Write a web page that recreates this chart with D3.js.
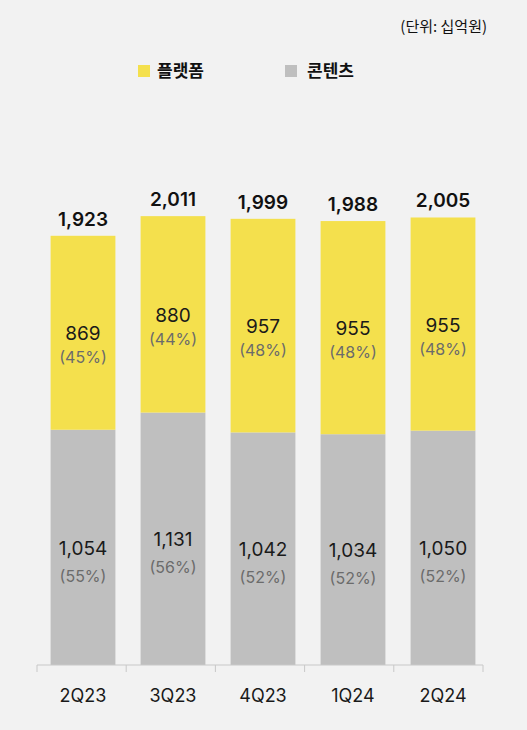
<!DOCTYPE html>
<html>
<head>
<meta charset="utf-8">
<script src="https://cdn.jsdelivr.net/npm/d3@7"></script>
<style>
  html, body { margin: 0; padding: 0; background: #f2f2f2; }
  svg { display: block; }
</style>
</head>
<body>
<div id="chart"></div>
<script>
// data (십억원)
const quarters = ["2Q23", "3Q23", "4Q23", "1Q24", "2Q24"];
const contents = [1054, 1131, 1042, 1034, 1050];
const platform = [869, 880, 957, 955, 955];
const totals = [1923, 2011, 1999, 1988, 2005];
const contentsPct = ["(55%)", "(56%)", "(52%)", "(52%)", "(52%)"];
const platformPct = ["(45%)", "(44%)", "(48%)", "(48%)", "(48%)"];
const seriesNames = ["플랫폼", "콘텐츠"];

const W = 527, H = 730;
const colors = { platform: "#f4e04d", contents: "#bfbfbf" };
const font = "Inter, 'Noto Sans', sans-serif";
const krFont = "'Noto Sans CJK KR', sans-serif";

const svg = d3.select("#chart").append("svg")
  .attr("width", W).attr("height", H);

svg.append("rect").attr("width", W).attr("height", H).attr("fill", "#f2f2f2");

const rows = quarters.map((q, i) => ({
  q, contents: contents[i], platform: platform[i], total: totals[i],
  cPct: contentsPct[i], pPct: platformPct[i]
}));

// bars
const x = d3.scaleBand()
  .domain(quarters)
  .range([38, 488])
  .paddingInner(0.28)
  .paddingOuter(0.14);

// axis categories (tick marks at the edges)
const xAxis = d3.scaleBand()
  .domain(quarters)
  .range([37, 483]);

const y = d3.scaleLinear()
  .domain([0, 2500])
  .range([665, 107]);

const stack = d3.stack().keys(["contents", "platform"]);
const layers = stack(rows);

svg.append("g").selectAll("g")
  .data(layers)
  .join("g")
  .attr("fill", d => colors[d.key])
  .selectAll("rect")
  .data(d => d)
  .join("rect")
  .attr("x", d => x(d.data.q))
  .attr("y", d => y(d[1]))
  .attr("width", x.bandwidth())
  .attr("height", d => y(d[0]) - y(d[1]));

// segment labels
layers.forEach(layer => {
  const g = svg.append("g").attr("text-anchor", "middle");
  layer.forEach(d => {
    const cx = x(d.data.q) + x.bandwidth() / 2;
    const mid = (y(d[0]) + y(d[1])) / 2;
    const isC = layer.key === "contents";
    g.append("text")
      .attr("x", cx).attr("y", mid + 1)
      .attr("dy", "0.35em")
      .style("font-family", font).style("font-size", "19px")
      .attr("fill", "#1a1a1a")
      .text(d3.format(",")(d.data[layer.key]));
    g.append("text")
      .attr("x", cx).attr("y", mid + (isC ? 29 : 25))
      .attr("dy", "0.35em")
      .style("font-family", font).style("font-size", "16px")
      .attr("fill", "#6b6b6b")
      .text(isC ? d.data.cPct : d.data.pPct);
  });
});

// totals
svg.append("g").selectAll("text")
  .data(rows)
  .join("text")
  .attr("text-anchor", "middle")
  .attr("x", d => x(d.q) + x.bandwidth() / 2)
  .attr("y", d => y(d.total) - 10)
  .style("font-family", font).style("font-size", "19px").style("font-weight", "600")
  .attr("fill", "#111")
  .text(d => d3.format(",")(d.total));

// x axis
const axisG = svg.append("g");
axisG.append("line")
  .attr("x1", 37).attr("x2", 483)
  .attr("y1", y(0)).attr("y2", y(0))
  .attr("stroke", "#c8c8c8").attr("stroke-width", 1);
const edges = quarters.map(q => xAxis(q)).concat([xAxis.range()[1]]);
axisG.selectAll("line.tick")
  .data(edges)
  .join("line")
  .attr("class", "tick")
  .attr("x1", d => d).attr("x2", d => d)
  .attr("y1", y(0)).attr("y2", y(0) + 7)
  .attr("stroke", "#c8c8c8");
axisG.selectAll("text")
  .data(quarters)
  .join("text")
  .attr("text-anchor", "middle")
  .attr("x", d => x(d) + x.bandwidth() / 2)
  .attr("y", 702)
  .style("font-family", font).style("font-size", "18px")
  .attr("fill", "#1a1a1a")
  .text(d => d);

// legend
const legend = svg.append("g");
const legendX = [138, 285];
const legendColors = [colors.platform, colors.contents];
seriesNames.forEach((name, i) => {
  legend.append("rect")
    .attr("x", legendX[i]).attr("y", 65)
    .attr("width", 12).attr("height", 12)
    .attr("fill", legendColors[i]);
  legend.append("text")
    .attr("x", legendX[i] + (i === 0 ? 19 : 22)).attr("y", 71)
    .attr("dy", "0.35em")
    .style("font-family", krFont).style("font-size", "17px").style("font-weight", "700")
    .attr("fill", "#111")
    .text(name);
});

// unit
svg.append("text")
  .attr("x", 487).attr("y", 27)
  .attr("dy", "0.35em")
  .attr("text-anchor", "end")
  .style("font-family", krFont).style("font-size", "15px")
  .attr("fill", "#111")
  .text("(단위: 십억원)");
</script>
</body>
</html>
